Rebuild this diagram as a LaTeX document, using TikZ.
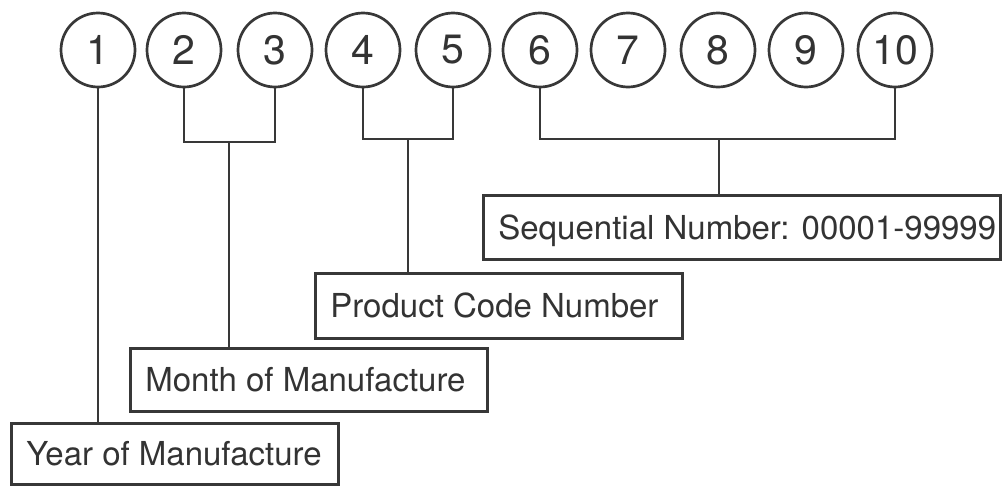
\documentclass[tikz,border=0pt]{standalone}
\usepackage{fontspec}
\setmainfont{TeX Gyre Heros}
\begin{document}
\begin{tikzpicture}[x=1pt,y=-1pt,
  ink/.style={draw=black!78, line width=2.7pt},
  digit/.style={ink, circle, minimum size=74pt, inner sep=0pt,
    font=\fontsize{41}{41}\selectfont, text=black!80},
  tagbox/.style={ink, rectangle, anchor=north west, inner xsep=15pt, inner ysep=0pt,
    font=\fontsize{33}{33}\selectfont, text=black!80,
    text height=23.6pt, text depth=0pt},
  link/.style={ink, line join=miter}
]
\useasboundingbox (0,0) rectangle (1006,485);

% numbered circles
\node[digit] (c1)  at (98,50)  {1};
\node[digit] (c2)  at (184,50) {2};
\node[digit] (c3)  at (275,50) {3};
\node[digit] (c4)  at (363,50) {4};
\node[digit] (c5)  at (453,50) {5};
\node[digit] (c6)  at (540,50) {6};
\node[digit] (c7)  at (628,50) {7};
\node[digit] (c8)  at (718,50) {8};
\node[digit] (c9)  at (806,50) {9};
\node[digit] (c10) at (895,50) {10};

% label boxes
\node[tagbox, minimum width=327pt, minimum height=61pt] (year) at (10,422) {\makebox[297pt][l]{Year of Manufacture}};
\node[tagbox, minimum width=357pt, minimum height=63pt] (month) at (129,347) {\makebox[327pt][l]{Month of Manufacture}};
\node[tagbox, minimum width=367pt, minimum height=65pt] (product) at (314,272) {\makebox[337pt][l]{Product Code Number}};
\node[tagbox, minimum width=517pt, minimum height=64pt] (seq) at (482,194) {\makebox[487pt][l]{Sequential Number: 00001-99999}};

% bracket junctions
\coordinate (b23) at (229,142);
\coordinate (b45) at (408,139);
\coordinate (b610) at (719,139);

% connectors
\draw[link] (c1.south) -- (c1.south |- year.north);
\draw[link] (c2.south) |- (b23) -| (c3.south);
\draw[link] (b23) -- (b23 |- month.north);
\draw[link] (c4.south) |- (b45) -| (c5.south);
\draw[link] (b45) -- (b45 |- product.north);
\draw[link] (c6.south) |- (b610) -| (c10.south);
\draw[link] (b610) -- (b610 |- seq.north);
\end{tikzpicture}
\end{document}
